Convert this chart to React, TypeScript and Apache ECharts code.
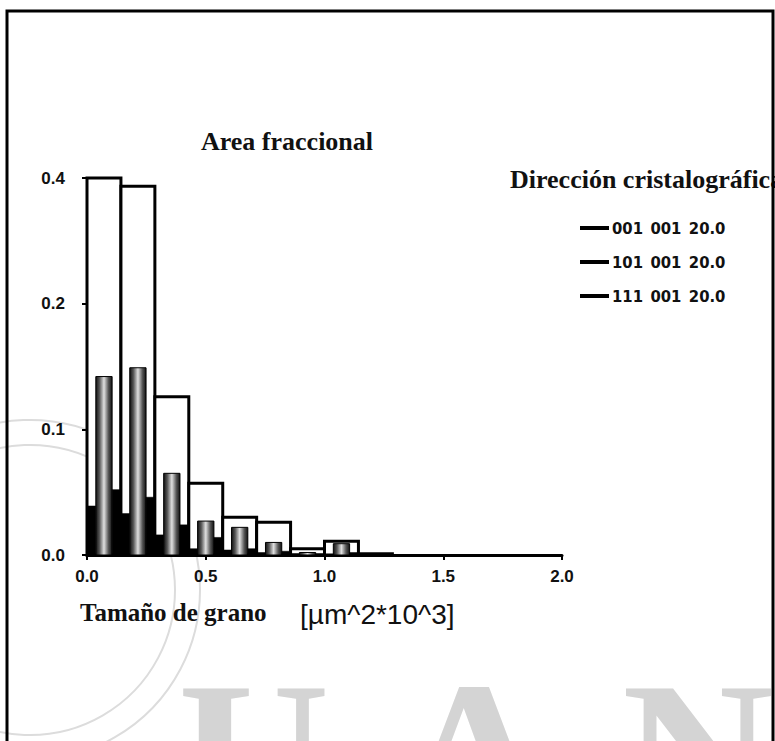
import React, { useEffect, useRef } from "react";
import * as echarts from "echarts";

// Grain-size bins (lower edge), in µm^2*10^3
const binStart = [0.0, 0.1429, 0.2857, 0.4286, 0.5714, 0.7143, 0.8571, 1.0, 1.1429];
const binWidth = 0.1429;
// Total fractional area (outlined bars)
const totalArea = [0.4, 0.387, 0.126, 0.057, 0.03, 0.026, 0.005, 0.011, 0.001];
// Fractional area per crystallographic direction
const s001 = [0.039, 0.033, 0.016, 0.005, 0.004, 0.002, 0.001, 0.0, 0.0];
const s101 = [0.142, 0.149, 0.065, 0.027, 0.022, 0.01, 0.002, 0.009, 0.0];
const s111 = [0.052, 0.046, 0.024, 0.014, 0.005, 0.003, 0.001, 0.002, 0.0];
const seriesNames = ["001\u2002001\u200220.0", "101\u2002001\u200220.0", "111\u2002001\u200220.0"];
const yTickLabels = ["0.0", "0.1", "0.2", "0.4"];
const xTicks = { min: 0, max: 2, interval: 0.5 };

// the original y axis is piecewise: 0, 0.1, 0.2, 0.4 at equal spacing
const toUnits = (v: number) => (v <= 0.2 ? v / 0.1 : 2 + (v - 0.2) / 0.2);

const SERIF = "'Liberation Serif', 'Times New Roman', serif";
const SANS = "'Liberation Sans', Arial, sans-serif";
const NARROW = "'Liberation Sans Narrow', 'DejaVu Sans Condensed', 'Liberation Sans', sans-serif";

function makeRender(fillFn: () => any, stroke: string, lw: number) {
  return (params: any, api: any) => {
    const x0 = api.value(0);
    const x1 = api.value(1);
    const y = api.value(2);
    const p0 = api.coord([x0, y]);
    const p1 = api.coord([x1, 0]);
    return {
      type: "rect",
      shape: { x: p0[0], y: p0[1], width: p1[0] - p0[0], height: p1[1] - p0[1] },
      style: { fill: fillFn(), stroke, lineWidth: lw },
    };
  };
}

export default function App() {
  const ref = useRef<HTMLDivElement>(null);
  useEffect(() => {
    if (!ref.current) return;
    const chart = echarts.init(ref.current, undefined, { renderer: "svg" });

    const sub = (vals: number[], a: number, b: number) =>
      vals.map((v, i) => [binStart[i] + a * binWidth, binStart[i] + b * binWidth, toUnits(v)]);
    const totalData = totalArea.map((v, i) => [binStart[i], binStart[i] + binWidth, toUnits(v)]);

    const greyFill = () =>
      new echarts.graphic.LinearGradient(0, 0, 1, 0, [
        { offset: 0, color: "#111" },
        { offset: 0.22, color: "#555" },
        { offset: 0.5, color: "#e0e0e0" },
        { offset: 0.78, color: "#555" },
        { offset: 1, color: "#111" },
      ]);

    const option: any = {
      animation: false,
      backgroundColor: "#fff",
      grid: { left: 87, top: 178, width: 475, height: 377 },
      legend: {
        orient: "vertical",
        left: 580,
        top: 219,
        padding: 0,
        itemWidth: 29,
        itemHeight: 4,
        itemGap: 16,
        icon: "rect",
        textStyle: { fontFamily: NARROW, fontWeight: "bold", fontSize: 16.5, color: "#111", lineHeight: 18, padding: [0, 0, 0, -2] },
        data: seriesNames.map((n) => ({ name: n, icon: "rect", itemStyle: { color: "#000" } })),
      },
      xAxis: {
        type: "value",
        min: xTicks.min,
        max: xTicks.max,
        interval: xTicks.interval,
        splitLine: { show: false },
        axisLine: { show: true, lineStyle: { color: "#000", width: 3 } },
        axisTick: { show: true, length: 5, lineStyle: { color: "#000", width: 2 } },
        axisLabel: {
          margin: 13,
          formatter: (v: number) => v.toFixed(1),
          fontFamily: SANS,
          fontWeight: "bold",
          fontSize: 17,
          color: "#111",
        },
      },
      yAxis: [
        {
          type: "value",
          min: 0,
          max: 3,
          interval: 1,
          splitLine: { show: false },
          axisLine: { show: true, lineStyle: { color: "#000", width: 2 } },
          axisTick: { show: true, length: 5, lineStyle: { color: "#000", width: 2 } },
          axisLabel: {
            margin: 22,
            formatter: (v: number) => yTickLabels[Math.round(v)],
            fontFamily: SANS,
            fontWeight: "bold",
            fontSize: 17,
            color: "#111",
          },
        },
        {
          type: "value",
          min: 0,
          max: 3,
          interval: 1,
          position: "left",
          splitLine: { show: false },
          axisLine: { show: false },
          axisTick: { show: true, inside: true, length: 5, lineStyle: { color: "#000", width: 2 } },
          axisLabel: { show: false },
        },
      ],
      graphic: [
        // scanned page frame
        { type: "rect", shape: { x: 7, y: 11, width: 766, height: 800 }, style: { fill: "none", stroke: "#000", lineWidth: 3 }, z: 100 },
        // watermark seal
        { type: "circle", shape: { cx: 30, cy: 590, r: 170 }, style: { fill: "none", stroke: "#dcdcdc", lineWidth: 2 }, z: -10 },
        { type: "circle", shape: { cx: 30, cy: 590, r: 145 }, style: { fill: "none", stroke: "#dcdcdc", lineWidth: 2 }, z: -10 },
        // watermark letters
        { type: "text", x: 178, y: 650, z: -10, style: { text: "U", font: `bold 210px ${SERIF}`, fill: "#d4d4d4", textVerticalAlign: "top" } },
        { type: "text", x: 398, y: 650, z: -10, style: { text: "A", font: `bold 210px ${SERIF}`, fill: "#d4d4d4", textVerticalAlign: "top" } },
        { type: "text", x: 622, y: 650, z: -10, style: { text: "N", font: `bold 210px ${SERIF}`, fill: "#d4d4d4", textVerticalAlign: "top" } },
        // titles
        { type: "text", x: 287, y: 141, style: { text: "Area fraccional", font: `bold 26px ${SERIF}`, fill: "#111", textAlign: "center", textVerticalAlign: "middle" } },
        { type: "text", x: 510, y: 179, style: { text: "Dirección cristalográfica", font: `bold 26px ${SERIF}`, fill: "#111", textAlign: "left", textVerticalAlign: "middle" } },
        { type: "text", x: 80, y: 612, style: { text: "Tamaño de grano", font: `bold 25px ${SERIF}`, fill: "#111", textAlign: "left", textVerticalAlign: "middle" } },
        { type: "text", x: 300, y: 614, style: { text: "[µm^2*10^3]", font: `28px ${SANS}`, fill: "#111", textAlign: "left", textVerticalAlign: "middle" } },
      ],
      series: [
        {
          type: "custom",
          name: "Total",
          renderItem: makeRender(() => "#fff", "#000", 3),
          encode: { x: [0, 1], y: 2 },
          data: totalData,
          z: 2,
        },
        {
          type: "custom",
          name: seriesNames[0],
          itemStyle: { color: "#000" },
          renderItem: makeRender(() => "#000", "#000", 0.5),
          encode: { x: [0, 1], y: 2 },
          data: sub(s001, 0, 0.26),
          z: 3,
        },
        {
          type: "custom",
          name: seriesNames[1],
          itemStyle: { color: "#000" },
          renderItem: makeRender(greyFill, "#000", 1),
          encode: { x: [0, 1], y: 2 },
          data: sub(s101, 0.26, 0.74),
          z: 3,
        },
        {
          type: "custom",
          name: seriesNames[2],
          itemStyle: { color: "#000" },
          renderItem: makeRender(() => "#000", "#000", 0.5),
          encode: { x: [0, 1], y: 2 },
          data: sub(s111, 0.74, 1.0),
          z: 3,
        },
      ],
    };
    chart.setOption(option);
    return () => chart.dispose();
  }, []);
  return (
    <div
      ref={ref}
      style={{ position: "fixed", left: 0, top: 0, width: 775, height: 741, background: "#fff" }}
    />
  );
}
